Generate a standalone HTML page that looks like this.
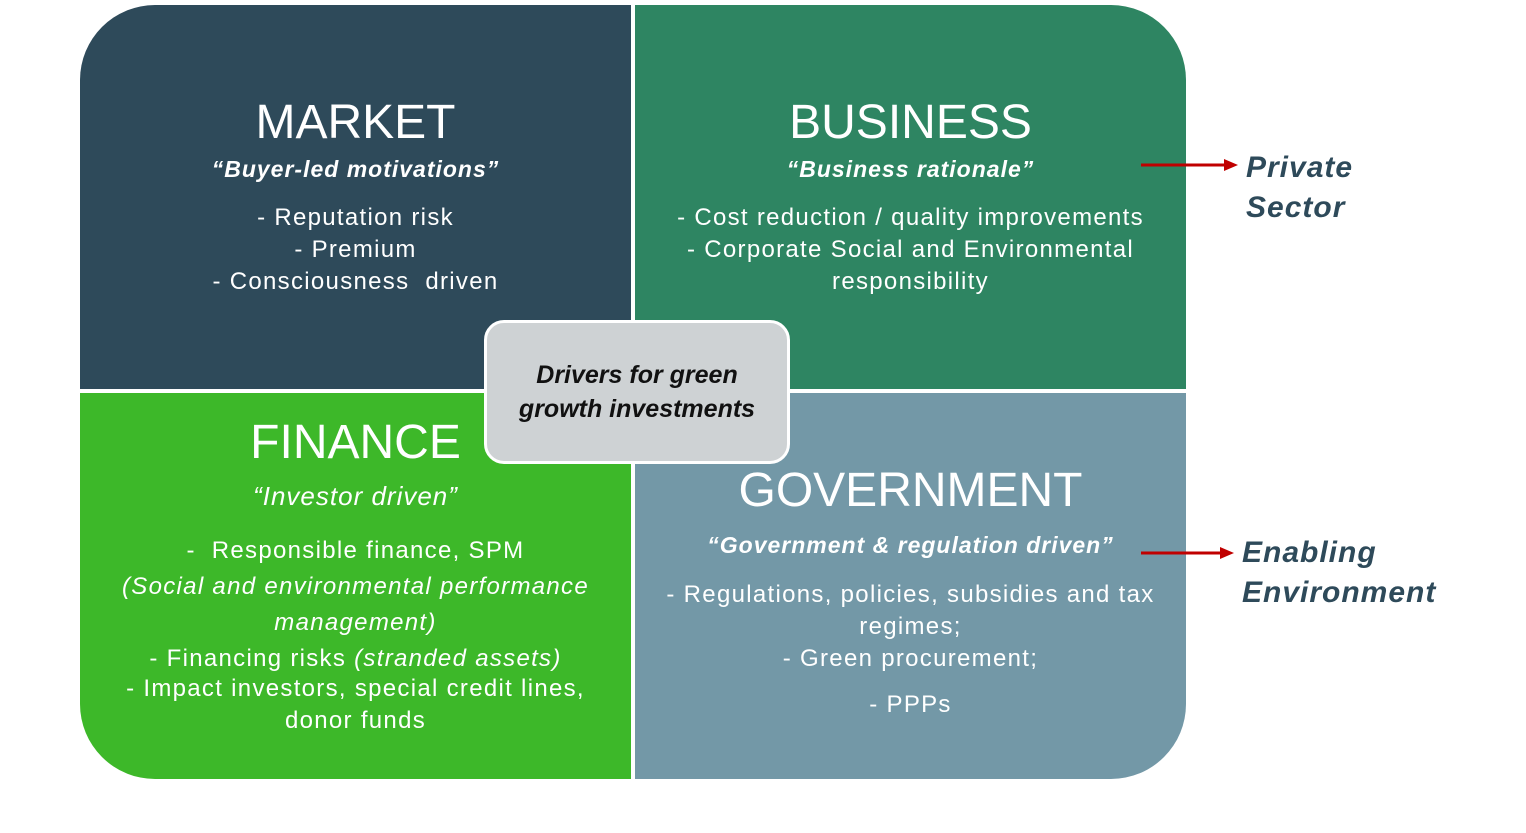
<!DOCTYPE html>
<html><head><meta charset="utf-8"><style>
body{margin:0;width:1526px;height:833px;background:#fff;position:relative;overflow:hidden;font-family:"Liberation Sans",sans-serif;}
.q{position:absolute;color:#fff;text-align:center;}
.t{position:absolute;left:-20px;right:-20px;text-align:center;color:#fff;white-space:nowrap;}
.h{font-size:48px;}
.s{font-size:23px;font-weight:bold;font-style:italic;letter-spacing:1px;}
.b{font-size:24px;line-height:32px;letter-spacing:1.3px;}
.side{position:absolute;color:#2E4A5A;font-weight:bold;font-style:italic;font-size:30px;line-height:40px;letter-spacing:1px;}
</style></head><body>
<div class="q" style="left:80px;top:5px;width:551px;height:384px;background:#2E4A5A;border-top-left-radius:75px;">
 <div class="t h" style="top:90px">MARKET</div>
 <div class="t s" style="top:151px">“Buyer-led motivations”</div>
 <div class="t b" style="top:197px">- Reputation risk<br>- Premium<br>- Consciousness&nbsp; driven</div>
</div>
<div class="q" style="left:635px;top:5px;width:551px;height:384px;background:#2E8562;border-top-right-radius:75px;">
 <div class="t h" style="top:90px">BUSINESS</div>
 <div class="t s" style="top:151px">“Business rationale”</div>
 <div class="t b" style="top:197px">- Cost reduction / quality improvements<br>- Corporate Social and Environmental<br>responsibility</div>
</div>
<div class="q" style="left:80px;top:393px;width:551px;height:386px;background:#3DB829;border-bottom-left-radius:75px;">
 <div class="t h" style="top:22px">FINANCE</div>
 <div class="t" style="top:88px;font-size:26px;font-style:italic;letter-spacing:1px">“Investor driven”</div>
 <div class="t b" style="top:140px;line-height:36px">-&nbsp; Responsible finance, SPM<br><i>(Social and environmental performance<br>management)</i><br><span style="line-height:32px">- Financing risks <i>(stranded assets)</i></span></div>
 <div class="t b" style="top:280px">- Impact investors, special credit lines,<br>donor funds</div>
</div>
<div class="q" style="left:635px;top:393px;width:551px;height:386px;background:#7398A7;border-bottom-right-radius:75px;">
 <div class="t h" style="top:70px">GOVERNMENT</div>
 <div class="t s" style="top:139px">“Government &amp; regulation driven”</div>
 <div class="t b" style="top:186px">- Regulations, policies, subsidies and tax<br>regimes;<br>- Green procurement;</div>
 <div class="t b" style="top:296px">- PPPs</div>
</div>
<div style="position:absolute;left:484px;top:320px;width:300px;height:138px;background:#CED2D4;border:3px solid #fff;border-radius:20px;display:flex;align-items:center;justify-content:center;text-align:center;font-weight:bold;font-style:italic;font-size:25px;line-height:34px;color:#111;">Drivers for green<br>growth investments</div>
<svg style="position:absolute;left:0;top:0" width="1526" height="833">
 <line x1="1141" y1="165" x2="1226" y2="165" stroke="#C00000" stroke-width="3"/>
 <polygon points="1224,159 1238,165 1224,171" fill="#C00000"/>
 <line x1="1141" y1="553" x2="1222" y2="553" stroke="#C00000" stroke-width="3"/>
 <polygon points="1220,547 1234,553 1220,559" fill="#C00000"/>
</svg>
<div class="side" style="left:1246px;top:148px">Private<br>Sector</div>
<div class="side" style="left:1242px;top:533px">Enabling<br>Environment</div>
</body></html>
